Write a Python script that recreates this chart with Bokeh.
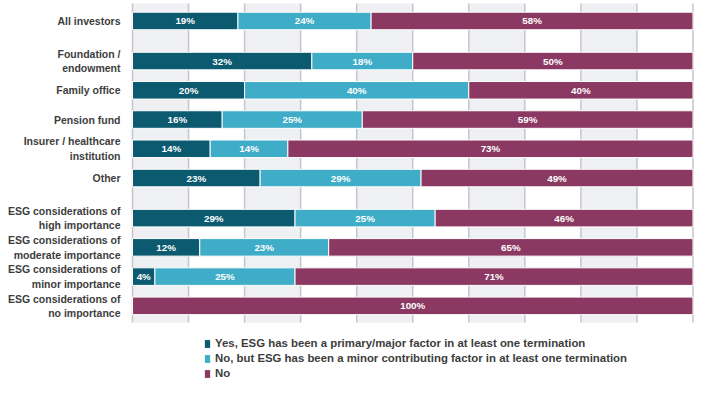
from bokeh.plotting import figure
from bokeh.models import Range1d, Legend, LegendItem, ColumnDataSource
from bokeh.core.properties import value
from bokeh.embed import file_html
from bokeh.resources import INLINE

categories = [
    "All investors",
    "Foundation /\nendowment",
    "Family office",
    "Pension fund",
    "Insurer / healthcare\ninstitution",
    "Other",
    "ESG considerations of\nhigh importance",
    "ESG considerations of\nmoderate importance",
    "ESG considerations of\nminor importance",
    "ESG considerations of\nno importance",
]
groups = [0, 1, 1, 1, 1, 1, 2, 2, 2, 2]
yes_major = [19, 32, 20, 16, 14, 23, 29, 12, 4, 0]
minor_factor = [24, 18, 40, 25, 14, 29, 25, 23, 25, 0]
no_vals = [58, 50, 40, 59, 73, 49, 46, 65, 71, 100]
series_names = [
    "Yes, ESG has been a primary/major factor in at least one termination",
    "No, but ESG has been a minor contributing factor in at least one termination",
    "No",
]
grid_ticks = list(range(0, 101, 10))
colors = ["#0b5a70", "#3fadc7", "#8b3962"]

GAP = 0.37
ypos = [i + GAP * g for i, g in enumerate(groups)]

# normalize to 100 for drawing
tot = [a + b + c for a, b, c in zip(yes_major, minor_factor, no_vals)]
s1 = [a * 100 / t for a, t in zip(yes_major, tot)]
s2 = [b * 100 / t for b, t in zip(minor_factor, tot)]
s3 = [c * 100 / t for c, t in zip(no_vals, tot)]

src = ColumnDataSource(dict(y=ypos, s1=s1, s2=s2, s3=s3))

FONT = "Liberation Sans"
Y_TOP = -0.70
Y_BOTTOM = 12.497
AREA_TOP = -0.60
AREA_BOTTOM = 10.309

p = figure(width=694, height=386, output_backend="svg", toolbar_location=None,
           x_range=Range1d(-23.55, 100.27), y_range=Range1d(Y_BOTTOM, Y_TOP),
           min_border=0, min_border_left=0, min_border_right=0,
           min_border_top=0, min_border_bottom=0)
p.outline_line_color = None
p.background_fill_color = "white"
p.xaxis.visible = False
p.yaxis.visible = False
p.xgrid.visible = False
p.ygrid.visible = False

# alternating bands 0-10, 20-30, ... and grid lines
p.quad(left=grid_ticks[0:-1:2], right=grid_ticks[1::2], top=AREA_TOP, bottom=AREA_BOTTOM,
       fill_color="#eef0f3", line_color=None)
p.segment(x0=grid_ticks, y0=AREA_TOP, x1=grid_ticks, y1=AREA_BOTTOM,
          line_color="#c6c6c6", line_width=1.5)

rs = p.hbar_stack(["s1", "s2", "s3"], y="y", height=0.6, color=colors,
                  line_color="white", line_width=1, source=src)

# value labels
lx, ly, lt = [], [], []
for i in range(len(categories)):
    segs = [(s1[i], yes_major[i]), (s2[i], minor_factor[i]), (s3[i], no_vals[i])]
    start = 0
    for w, v in segs:
        if v > 0:
            lx.append(start + w / 2)
            ly.append(ypos[i])
            lt.append(f"{v}%")
        start += w
p.text(x=lx, y=ly, text=lt, text_align="center", text_baseline="middle",
       text_color="white", text_font=value(FONT), text_font_style="bold",
       text_font_size="9.8px")

# category labels
p.text(x=[-2.14] * len(categories), y=ypos, text=categories, text_align="right",
       text_baseline="middle", text_color="#3d3d3d", text_font=value(FONT),
       text_font_style="bold", text_font_size="10.5px", text_line_height=1.22)

legend = Legend(items=[LegendItem(label=n, renderers=[r]) for n, r in zip(series_names, rs)],
                location=(203, 7), orientation="vertical",
                padding=0, margin=0, spacing=3, glyph_width=8, glyph_height=11,
                label_height=12, label_standoff=4,
                label_text_font=FONT, label_text_font_style="bold",
                label_text_font_size="11.4px", label_text_color="#3d3d3d",
                border_line_alpha=0, background_fill_alpha=0)
p.add_layout(legend, "center")

open("out.html", "w").write(file_html(p, INLINE))
